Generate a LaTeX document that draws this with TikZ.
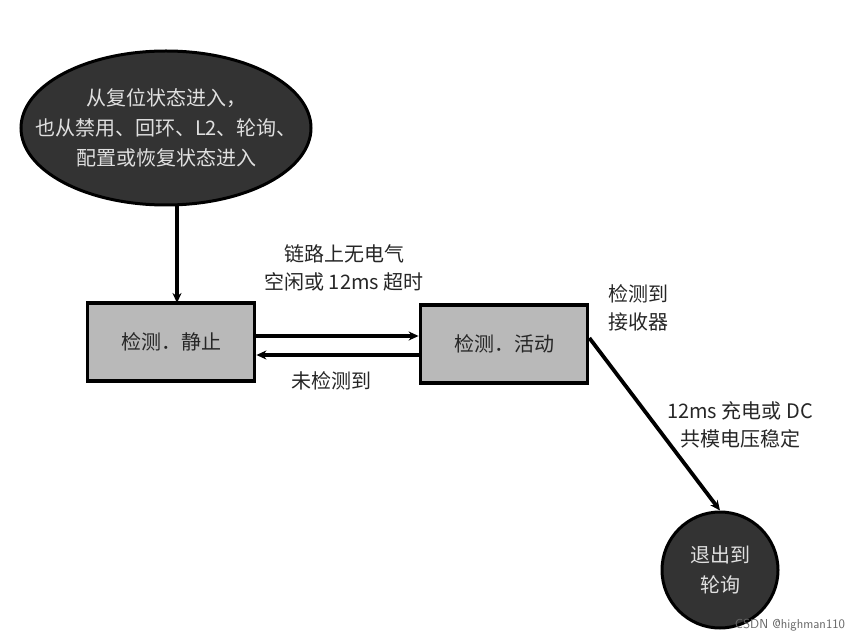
\documentclass[tikz,border=0pt]{standalone}
\usepackage{fontspec}
\setmainfont{Liberation Serif}
\newfontfamily\cjk{Noto Sans CJK SC}
\usetikzlibrary{arrows.meta,shapes.geometric}
\tikzset{
  conn/.style={line width=3.8pt,-{Stealth[length=10pt,width=9pt]}},
  statebox/.style={draw=black,line width=3.8pt,fill=gray!55,minimum width=167pt,minimum height=78pt,font=\cjk\fontsize{20}{24}\selectfont,text=black!85},
  darkell/.style={ellipse,draw=black,line width=3pt,fill=black!80,inner sep=0pt},
  whitetxt/.style={text=white!88!black,align=center,font=\cjk\fontsize{20}{30}\selectfont},
  lbl/.style={font=\cjk\fontsize{20}{28}\selectfont,text=black!85,align=center}
}
\begin{document}
\begin{tikzpicture}[x=1pt,y=-1pt]
\useasboundingbox (0,0) rectangle (865,644);
\node[darkell,minimum width=290pt,minimum height=154pt] (entry) at (166,128) {};
\node[whitetxt] (entrytxt) at (entry.center) {从复位状态进入，\\也从禁用、回环、L2、轮询、\\配置或恢复状态进入};
\node[statebox] (quiet) at (171,342) {检测．静止};
\node[statebox] (active) at (504,344) {检测．活动};
\node[darkell,circle,minimum size=116pt] (exit) at (720,570) {};
\node[whitetxt] (exittxt) at (exit.center) {退出到\\轮询};
\coordinate (qtop) at (177,303);
\draw[conn] (entry.south -| qtop) -- (qtop);
\draw[conn] ([yshift=6pt]quiet.east) -- ([yshift=8pt]active.west);
\draw[conn] ([yshift=-11pt]active.west) -- ([yshift=-13pt]quiet.east);
\draw[conn] ([yshift=6pt]active.east) -- (exit.north);
\node[lbl] (l1) at (344,268) {链路上无电气\\空闲或 12ms 超时};
\node[lbl] (l2) at (331,381) {未检测到};
\node[lbl,align=left] (l3) at (638,308) {检测到\\接收器};
\node[lbl] (l4) at (740,425) {12ms 充电或 DC\\共模电压稳定};
\node[font=\sffamily\fontsize{13}{15}\selectfont,text=black!60] (wm) at (790,625) {CSDN @highman110};
\end{tikzpicture}
\end{document}
